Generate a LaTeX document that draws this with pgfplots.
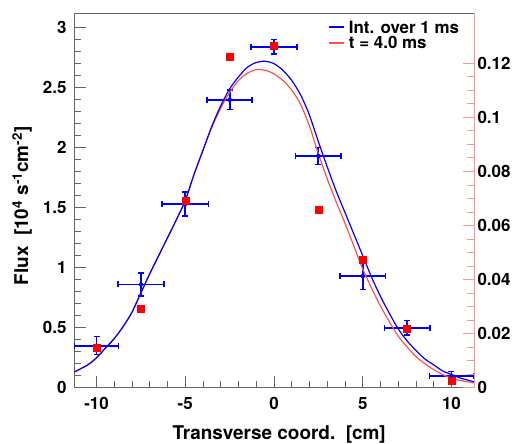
\documentclass[border=0pt]{standalone}
\usepackage{fontspec}
\setmainfont{TeX Gyre Heros}
\usepackage{pgfplots}
\pgfplotsset{compat=1.18}
\definecolor{rootblue}{RGB}{0,0,255}
\definecolor{fitred}{RGB}{255,80,80}
\definecolor{axpink}{RGB}{255,150,150}
\definecolor{framegray}{RGB}{100,100,100}
\newcommand{\legline}[1]{\textcolor{#1}{\rule[0.3em]{15bp}{1.6bp}}\hspace{5bp}}
\begin{document}
\begin{tikzpicture}[x=1bp,y=1bp]
\useasboundingbox (0,0) rectangle (520,444);
\begin{axis}[
  scale only axis, width=400bp, height=374.7bp,
  at={(74bp,56.3bp)}, anchor=south west,
  xmin=-11.27, xmax=11.27, ymin=0, ymax=3.1225,
  xtick={-10,-5,0,5,10}, xticklabels={-10,-5,0,5,10},
  minor x tick num=4,
  ytick={0,0.5,1,1.5,2,2.5,3}, yticklabels={0,0.5,1,1.5,2,2.5,3},
  minor y tick num=4,
  xtick pos=bottom, ytick pos=left, tick align=inside,
  major tick length=12bp, minor tick length=7bp,
  axis line style={framegray, line width=0.8bp},
  every tick/.style={framegray, line width=0.8bp},
  tick label style={font=\bfseries\fontsize{17}{17}\selectfont},
  xticklabel style={yshift=-6bp},
  yticklabel style={xshift=-4bp},
  xlabel={Transverse coord.\ \ [cm]},
  ylabel={Flux\ \ [10\textsuperscript{4} s\textsuperscript{-1}cm\textsuperscript{-2}]},
  label style={font=\bfseries\fontsize{19}{19}\selectfont},
  xlabel style={at={(axis description cs:0.513,-0.126)}, anchor=center},
  ylabel style={at={(axis description cs:-0.13,0.485)}, anchor=center},
  legend style={draw=none, fill=none, at={(0.968,0.985)}, anchor=north east,
    font=\bfseries\fontsize{17}{17}\selectfont, row sep=-2bp, inner sep=0pt,
    column sep=0pt},
  legend cell align=left,
  legend image code/.code={},
]
% blue measurements with errors
\addplot[rootblue, only marks, mark=none, forget plot,
  error bars/.cd, x dir=both, x explicit, y dir=both, y explicit,
  error bar style={line width=1.9bp},
  error mark options={rotate=90, mark size=3bp, line width=1.5bp}]
coordinates {
  (-10,0.35) +- (1.25,0.075)
  (-7.5,0.86) +- (1.3,0.095)
  (-5,1.53) +- (1.3,0.10)
  (-2.5,2.40) +- (1.27,0.08)
  (0,2.84) +- (1.3,0.06)
  (2.5,1.93) +- (1.28,0.07)
  (5,0.93) +- (1.28,0.11)
  (7.5,0.50) +- (1.28,0.06)
  (10,0.10) +- (1.25,0.035)
};
% red fit (t = 4.0 ms)
\addplot[color=fitred, line width=1.2bp, smooth, forget plot] coordinates {
  (-11.27,0.13) (-10.5,0.19) (-10,0.25) (-9.5,0.33) (-9,0.41) (-8.5,0.51)
  (-8,0.63) (-7.5,0.79) (-7,0.95) (-6.5,1.10) (-6,1.25) (-5.5,1.40)
  (-5,1.56) (-4.5,1.78) (-4,1.98) (-3.5,2.17) (-3,2.33) (-2.5,2.46)
  (-2,2.56) (-1.5,2.62) (-1,2.65) (-0.5,2.645) (0,2.615) (0.5,2.56)
  (1,2.48) (1.5,2.36) (2,2.18) (2.5,1.95) (3,1.74) (3.5,1.55)
  (4,1.37) (4.5,1.18) (5,0.99) (5.5,0.83) (6,0.68) (6.5,0.55)
  (7,0.43) (7.5,0.34) (8,0.26) (8.5,0.20) (9,0.15) (9.5,0.11)
  (10,0.08) (10.5,0.06) (11.27,0.04)
};
% blue fit (integrated over 1 ms)
\addplot[color=rootblue, line width=1.2bp, smooth, forget plot] coordinates {
  (-11.27,0.13) (-10.5,0.19) (-10,0.25) (-9.5,0.33) (-9,0.41) (-8.5,0.51)
  (-8,0.63) (-7.5,0.79) (-7,0.95) (-6.5,1.10) (-6,1.25) (-5.5,1.40)
  (-5,1.56) (-4.5,1.78) (-4,1.98) (-3.5,2.18) (-3,2.35) (-2.5,2.49)
  (-2,2.59) (-1.5,2.67) (-1,2.71) (-0.5,2.72) (0,2.70) (0.5,2.645)
  (1,2.56) (1.5,2.44) (2,2.27) (2.5,2.05) (3,1.84) (3.5,1.64)
  (4,1.46) (4.5,1.28) (5,1.10) (5.5,0.92) (6,0.76) (6.5,0.62)
  (7,0.49) (7.5,0.39) (8,0.31) (8.5,0.24) (9,0.19) (9.5,0.14)
  (10,0.11) (10.5,0.08) (11.27,0.05)
};
\addlegendimage{empty legend}
\addlegendentry{\legline{rootblue}Int. over 1 ms}
\addlegendimage{empty legend}
\addlegendentry{\legline{fitred}t = 4.0 ms}
\end{axis}
\begin{axis}[
  scale only axis, width=400bp, height=374.7bp,
  at={(74bp,56.3bp)}, anchor=south west,
  xmin=-11.27, xmax=11.27, ymin=0, ymax=0.1386,
  axis x line=none, axis y line*=right, tick align=inside,
  ytick={0,0.02,0.04,0.06,0.08,0.1,0.12},
  yticklabels={0,0.02,0.04,0.06,0.08,0.1,0.12},
  minor y tick num=3,
  major tick length=11bp, minor tick length=7bp,
  axis line style={axpink, line width=0.8bp},
  every tick/.style={axpink, line width=0.8bp},
  tick label style={font=\bfseries\fontsize{17}{17}\selectfont},
]
% red measurements (right axis)
\addplot[only marks, mark=square*, mark size=3.5bp, red] coordinates {
  (-10,0.0149) (-7.5,0.0294) (-5,0.0692) (-2.5,0.1224) (0,0.1264)
  (2.5,0.0657) (5,0.0475) (7.5,0.0217) (10,0.0025)
};
\end{axis}
\end{tikzpicture}
\end{document}
